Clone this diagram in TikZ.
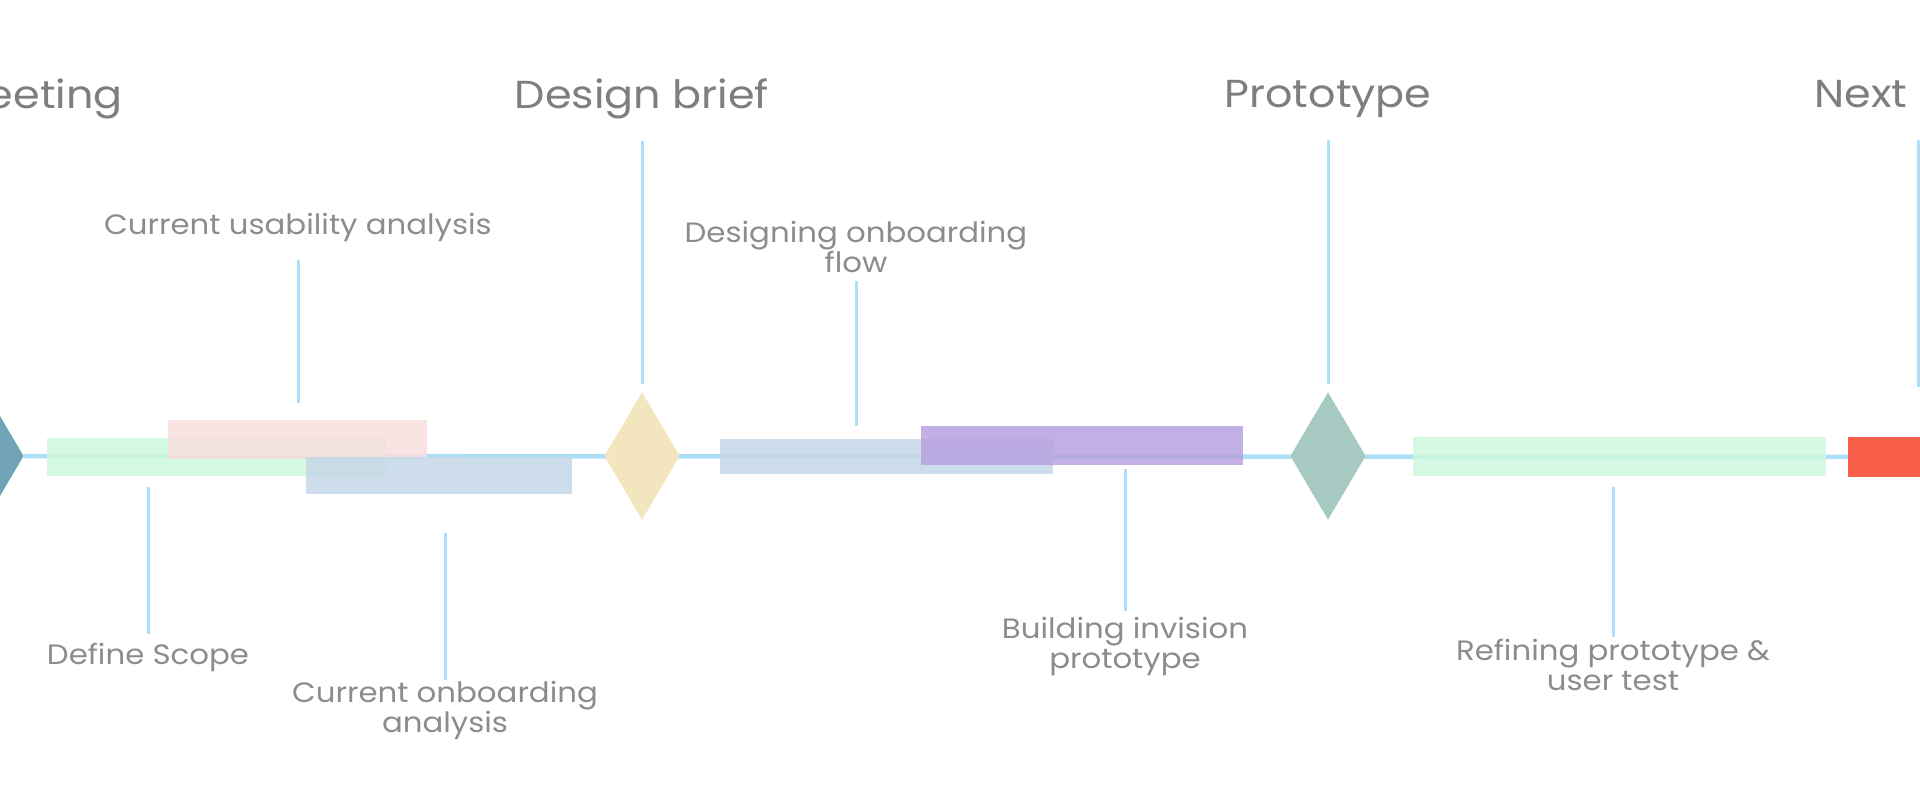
\documentclass[tikz,border=0pt]{standalone}
\usepackage{fontspec}
\setmainfont{Poppins}
\newfontfamily\wide[FakeStretch=1.1]{Poppins}
\usetikzlibrary{shapes,
	positioning}
\definecolor{axisblue}{HTML}{AEDFF9}
\definecolor{ttlgray}{HTML}{7E7E7E}
\definecolor{lblgray}{HTML}{8C8C8C}
\definecolor{kickc}{HTML}{6FA3B5}
\definecolor{briefc}{HTML}{F3E6BE}
\definecolor{protoc}{HTML}{A6C9C2}
\definecolor{mint}{HTML}{CFF8DF}
\definecolor{rose}{HTML}{F8DEDE}
\definecolor{steel}{HTML}{C6D7E7}
\definecolor{lilac}{HTML}{B7A2E0}
\definecolor{tomato}{HTML}{FA5C45}
\tikzstyle{ms}=[diamond, minimum width=75pt, minimum height=127pt, inner sep=0]
\tikzstyle{bar}=[rectangle, inner sep=0, fill opacity=0.85]
\tikzstyle{ttl}=[text=ttlgray, inner sep=0, font=\wide\fontsize{39}{46}\selectfont]
\tikzstyle{lbl}=[text=lblgray, align=center, inner sep=0, font=\wide\fontsize{28}{30}\selectfont]
\tikzstyle{link}=[draw=axisblue, line width=3pt]
\tikzstyle{axisline}=[draw=axisblue, line width=4.5pt]

\begin{document}
\begin{tikzpicture}[x=1pt, y=-1pt]
\useasboundingbox (0,0) rectangle (1920,800);
\clip (0,0) rectangle (1920,800);
% milestones
\node[ms, fill=kickc] (kick) at (-14,456) {};
\node[ms, fill=briefc] (brief) at (642,456) {};
\node[ms, fill=protoc] (proto) at (1328,456) {};
\coordinate (next) at (1918,393);
\node[bar, fill=tomato, minimum width=142pt, minimum height=40pt] (nxt) at (1919,457) {};
% time line
\draw[axisline] (kick) -- (nxt);
% tasks
\node[bar, fill=mint, minimum width=339pt, minimum height=38pt] (scope) at (216.5,457) {};
\node[bar, fill=rose, minimum width=259pt, minimum height=39pt] (usab) at (297.5,439.5) {};
\node[bar, fill=steel, minimum width=266pt, minimum height=37pt] (onb) at (439,475.5) {};
\node[bar, fill=steel, minimum width=333pt, minimum height=35pt] (flow) at (886.5,456.5) {};
\node[bar, fill=lilac, minimum width=322pt, minimum height=39pt] (build) at (1082,445.5) {};
\node[bar, fill=mint, minimum width=413pt, minimum height=39pt] (refine) at (1619.5,456.5) {};
\node[bar, fill=tomato, minimum width=142pt, minimum height=40pt] at (nxt) {};
\node[ms, fill=kickc] at (kick) {};
\node[ms, fill=briefc] at (brief) {};
\node[ms, fill=protoc] at (proto) {};
% titles
\node[ttl] (kickT) at (-43,99) {Kickoff meeting};
\node[ttl] (briefT) at (642,99) {Design brief};
\node[ttl] (protoT) at (1328,99) {Prototype};
\node[ttl] (nextT) at (1926,99) {Next Steps};
\draw[link, shorten <=22pt, shorten >=8pt] (briefT.south) -- (brief.north);
\draw[link, shorten <=22pt, shorten >=8pt] (protoT.south) -- (proto.north);
\draw[link, shorten <=22pt, shorten >=6pt] (next |- nextT.south) -- (next);
% labels
\node[lbl] (scopeL) at (148,657) {Define Scope};
\node[lbl] (usabL) at (298,227) {Current usability analysis};
\node[lbl] (onbL) at (445,710) {Current onboarding\\analysis};
\node[lbl] (flowL) at (856,247) {Designing onboarding\\flow};
\node[lbl] (buildL) at (1125,646) {Building invision\\prototype};
\node[lbl] (refineL) at (1613,665) {Refining prototype \&\\user test};
\draw[link, shorten <=11pt, shorten >=8pt] (scope.south -| scopeL) -- (scopeL.north);
\draw[link, shorten <=17pt, shorten >=19pt] (usab.north -| usabL) -- (usabL.south);
\draw[link, shorten <=39pt, shorten >=1pt] (onb.south -| onbL) -- (onbL.north);
\draw[link, shorten <=13pt, shorten >=8pt] (flow.north -| flowL) -- (flowL.south);
\draw[link, shorten <=4pt, shorten >=6pt] (build.south -| buildL) -- (buildL.north);
\draw[link, shorten <=11pt, shorten >=2pt] (refine.south -| refineL) -- (refineL.north);
\end{tikzpicture}
\end{document}
